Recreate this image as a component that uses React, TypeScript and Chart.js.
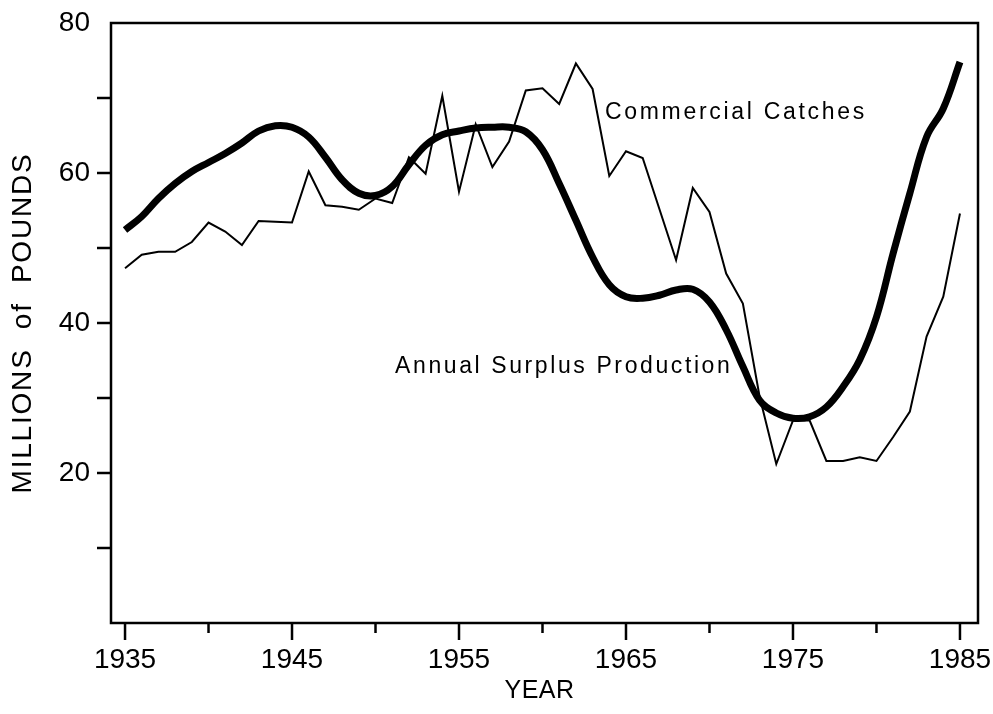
import React, { useEffect, useRef } from "react";
import { Chart, registerables } from "chart.js";

Chart.register(...registerables);

const years = [
  1935, 1936, 1937, 1938, 1939, 1940, 1941, 1942, 1943, 1944,
  1945, 1946, 1947, 1948, 1949, 1950, 1951, 1952, 1953, 1954,
  1955, 1956, 1957, 1958, 1959, 1960, 1961, 1962, 1963, 1964,
  1965, 1966, 1967, 1968, 1969, 1970, 1971, 1972, 1973, 1974,
  1975, 1976, 1977, 1978, 1979, 1980, 1981, 1982, 1983, 1984, 1985,
];

const commercialCatches = [
  47.3, 49.1, 49.5, 49.5, 50.8, 53.4, 52.2, 50.4, 53.6, 53.5,
  53.4, 60.2, 55.7, 55.5, 55.1, 56.6, 56.0, 62.1, 59.9, 70.3,
  57.5, 66.5, 60.8, 64.2, 71.0, 71.3, 69.2, 74.6, 71.2, 59.6,
  62.9, 62.0, 55.2, 48.4, 58.0, 54.8, 46.6, 42.6, 30.2, 21.2,
  27.0, 27.0, 21.6, 21.6, 22.1, 21.6, 24.8, 28.2, 38.2, 43.5, 54.6,
];

const surplusProduction = [
  52.4, 54.2, 56.6, 58.6, 60.2, 61.4, 62.6, 64.0, 65.6, 66.3,
  66.1, 64.8, 62.1, 59.1, 57.3, 57.0, 58.2, 61.1, 63.7, 65.1,
  65.6, 66.0, 66.1, 66.1, 65.5, 63.1, 58.6, 53.7, 48.8, 45.1,
  43.5, 43.3, 43.7, 44.4, 44.5, 42.8, 39.1, 34.2, 29.7, 28.0,
  27.3, 27.5, 28.8, 31.5, 35.1, 40.8, 49.3, 57.3, 64.8, 68.6, 74.8,
];

const xTickValues = [1935, 1940, 1945, 1950, 1955, 1960, 1965, 1970, 1975, 1980, 1985];
const xLabelValues = [1935, 1945, 1955, 1965, 1975, 1985];
const yTickValues = [10, 20, 30, 40, 50, 60, 70, 80];
const yLabelValues = [20, 40, 60, 80];

const FONT = '"Liberation Sans", Arial, Helvetica, sans-serif';

const decorPlugin = {
  id: "decor",
  afterDraw(chart: any) {
    const { ctx, chartArea: a, scales } = chart;
    const x = scales.x;
    const y = scales.y;
    ctx.save();
    ctx.strokeStyle = "#000";
    ctx.lineWidth = 2.5;
    ctx.lineCap = "butt";
    ctx.strokeRect(a.left, a.top, a.right - a.left, a.bottom - a.top);

    xTickValues.forEach((v) => {
      const px = x.getPixelForValue(v);
      const len = xLabelValues.includes(v) ? 17 : 10;
      ctx.beginPath();
      ctx.moveTo(px, a.bottom);
      ctx.lineTo(px, a.bottom + len);
      ctx.stroke();
    });
    yTickValues.forEach((v) => {
      if (v >= 80) return;
      const py = y.getPixelForValue(v);
      ctx.beginPath();
      ctx.moveTo(a.left, py);
      ctx.lineTo(a.left - 14, py);
      ctx.stroke();
    });

    ctx.fillStyle = "#000";
    // x axis title
    ctx.font = `25px ${FONT}`;
    ctx.textAlign = "center";
    ctx.textBaseline = "middle";
    (ctx as any).letterSpacing = "0.5px";
    ctx.fillText("YEAR", (a.left + a.right) / 2 - 5, 691);

    // y axis title
    ctx.save();
    ctx.translate(23, (a.top + a.bottom) / 2);
    ctx.rotate(-Math.PI / 2);
    ctx.font = `28px ${FONT}`;
    (ctx as any).letterSpacing = "1.8px";
    ctx.fillText("MILLIONS  of  POUNDS", 0, 0);
    ctx.restore();

    // annotations
    ctx.font = `23px ${FONT}`;
    ctx.textAlign = "left";
    ctx.textBaseline = "alphabetic";
    (ctx as any).letterSpacing = "2.7px";
    ctx.fillText("Commercial Catches", x.getPixelForValue(1963.74), y.getPixelForValue(67.16));
    (ctx as any).letterSpacing = "2.6px";
    ctx.fillText("Annual Surplus Production", x.getPixelForValue(1951.17), y.getPixelForValue(33.3));
    ctx.restore();
  },
};

export default function App() {
  const canvasRef = useRef<HTMLCanvasElement | null>(null);

  useEffect(() => {
    const canvas = canvasRef.current;
    if (!canvas) return;
    const chart = new Chart(canvas, {
      type: "line",
      data: {
        datasets: [
          {
            label: "Commercial Catches",
            data: years.map((yr, i) => ({ x: yr, y: commercialCatches[i] })),
            borderColor: "#000",
            borderWidth: 2,
            pointRadius: 0,
            tension: 0,
            fill: false,
          },
          {
            label: "Annual Surplus Production",
            data: years.map((yr, i) => ({ x: yr, y: surplusProduction[i] })),
            borderColor: "#000",
            borderWidth: 7,
            pointRadius: 0,
            tension: 0.4,
            fill: false,
          },
        ],
      },
      options: {
        animation: false,
        responsive: false,
        devicePixelRatio: 1,
        layout: { padding: { top: 23, right: 15, left: 0, bottom: 0 } },
        plugins: {
          legend: { display: false },
          tooltip: { enabled: false },
        },
        scales: {
          x: {
            type: "linear",
            min: 1934.16,
            max: 1986.08,
            afterBuildTicks: (s: any) => {
              s.ticks = xTickValues.map((value) => ({ value }));
            },
            afterFit: (s: any) => {
              s.height = 91;
              s.paddingLeft = 0;
              s.paddingRight = 0;
              s.paddingTop = 0;
              s.paddingBottom = 0;
            },
            grid: { display: false, drawTicks: false },
            border: { display: false },
            ticks: {
              autoSkip: false,
              maxRotation: 0,
              padding: 20,
              color: "#000",
              font: { family: FONT, size: 28 },
              callback: (v: any) => (xLabelValues.includes(Number(v)) ? String(v) : ""),
            },
          },
          y: {
            type: "linear",
            min: 0,
            max: 80,
            afterBuildTicks: (s: any) => {
              s.ticks = yTickValues.map((value) => ({ value }));
            },
            afterFit: (s: any) => {
              s.width = 111;
              s.paddingLeft = 0;
              s.paddingRight = 0;
              s.paddingTop = 0;
              s.paddingBottom = 0;
            },
            grid: { display: false, drawTicks: false },
            border: { display: false },
            ticks: {
              autoSkip: false,
              padding: 21,
              color: "#000",
              font: { family: FONT, size: 28 },
              callback: (v: any) => (yLabelValues.includes(Number(v)) ? String(v) : ""),
            },
          },
        },
      },
      plugins: [decorPlugin],
    });
    return () => chart.destroy();
  }, []);

  return (
    <div style={{ position: "absolute", left: 0, top: 0, width: 993, height: 714, background: "#fff" }}>
      <canvas ref={canvasRef} width={993} height={714} style={{ display: "block" }} />
    </div>
  );
}
